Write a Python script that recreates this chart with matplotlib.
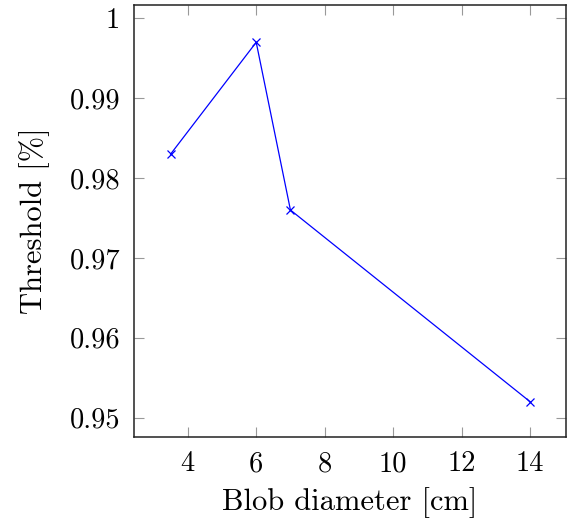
import matplotlib
matplotlib.use("Agg")
import matplotlib.pyplot as plt

diameters = [3.5, 6, 7, 14]
thresholds = [0.983, 0.997, 0.976, 0.952]
xticks = [4, 6, 8, 10, 12, 14]
xtick_labels = ["4", "6", "8", "10", "12", "14"]
yticks = [0.95, 0.96, 0.97, 0.98, 0.99, 1.0]
ytick_labels = ["0.95", "0.96", "0.97", "0.98", "0.99", "1"]

plt.rcParams['font.family'] = ['cmr10', 'DejaVu Serif']
plt.rcParams['mathtext.fontset'] = 'cm'
plt.rcParams['axes.formatter.use_mathtext'] = True

fig = plt.figure(figsize=(5.71, 5.19), dpi=100)
ax = fig.add_axes([134/571, 1-437/519, (566-134)/571, (437-5.3)/519])

ax.plot(diameters, thresholds, color='blue', linewidth=0.9, marker='x',
        markersize=6, markeredgewidth=0.9)

ax.set_xlim(2.43, 15.05)
ax.set_ylim(0.94758, 1.00163)
ax.set_xticks(xticks)
ax.set_xticklabels(xtick_labels)
ax.set_yticks(yticks)
ax.set_yticklabels(ytick_labels)
ax.tick_params(direction='in', length=7, width=0.8, color='#999999',
               top=True, right=True, labelsize=20.5, pad=10)
for s in ax.spines.values():
    s.set_linewidth(1.1)
    s.set_color('#222222')

ax.set_xlabel('Blob diameter [cm]', fontsize=22, labelpad=7)
ax.set_ylabel('Threshold [%]', fontsize=22, labelpad=14)

fig.savefig('out.png', dpi=100)
